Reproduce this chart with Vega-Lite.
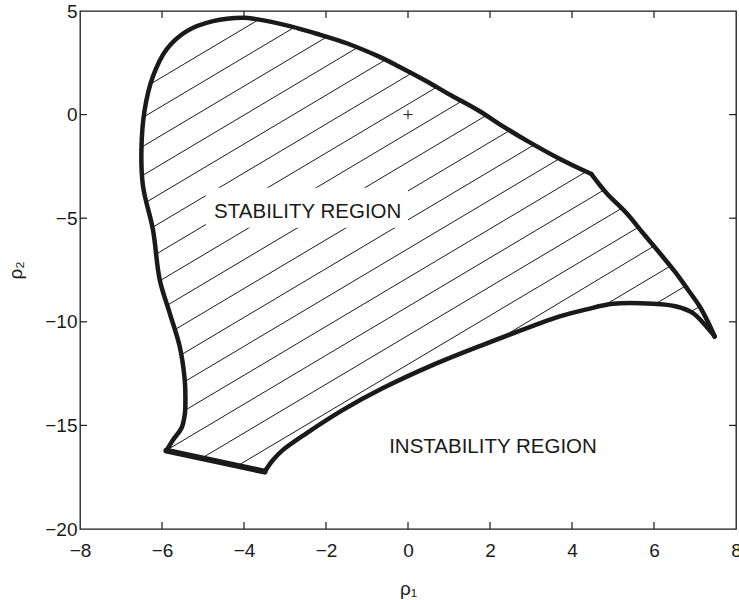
{
  "$schema": "https://vega.github.io/schema/vega-lite/v6.json",
  "width": 656,
  "height": 518,
  "autosize": {"type": "none"},
  "padding": {"left": 80, "top": 11, "right": 3, "bottom": 71},
  "background": "white",
  "datasets": {
    "boundary": [
      {"seg": "A", "i": 0, "x": -5.893, "y": -16.22},
      {"seg": "A", "i": 1, "x": -5.732, "y": -15.70},
      {"seg": "A", "i": 2, "x": -5.527, "y": -15.14},
      {"seg": "A", "i": 3, "x": -5.446, "y": -14.49},
      {"seg": "A", "i": 4, "x": -5.429, "y": -13.77},
      {"seg": "A", "i": 5, "x": -5.446, "y": -12.80},
      {"seg": "A", "i": 6, "x": -5.568, "y": -11.19},
      {"seg": "A", "i": 7, "x": -5.812, "y": -9.58},
      {"seg": "A", "i": 8, "x": -6.056, "y": -7.97},
      {"seg": "A", "i": 9, "x": -6.22, "y": -5.56},
      {"seg": "A", "i": 10, "x": -6.463, "y": -3.46},
      {"seg": "A", "i": 11, "x": -6.502, "y": -1.69},
      {"seg": "A", "i": 12, "x": -6.422, "y": 0.24},
      {"seg": "A", "i": 13, "x": -6.22, "y": 1.85},
      {"seg": "A", "i": 14, "x": -5.893, "y": 3.14},
      {"seg": "A", "i": 15, "x": -5.405, "y": 4.02},
      {"seg": "A", "i": 16, "x": -4.756, "y": 4.51},
      {"seg": "A", "i": 17, "x": -4.024, "y": 4.67},
      {"seg": "A", "i": 18, "x": -3.739, "y": 4.62},
      {"seg": "A", "i": 19, "x": -2.885, "y": 4.27},
      {"seg": "A", "i": 20, "x": -2.156, "y": 3.86},
      {"seg": "A", "i": 21, "x": -1.463, "y": 3.42},
      {"seg": "A", "i": 22, "x": -0.732, "y": 2.82},
      {"seg": "A", "i": 23, "x": -0.202, "y": 2.30},
      {"seg": "A", "i": 24, "x": 0.407, "y": 1.66},
      {"seg": "A", "i": 25, "x": 1.059, "y": 0.92},
      {"seg": "A", "i": 26, "x": 1.749, "y": 0.16},
      {"seg": "A", "i": 27, "x": 2.317, "y": -0.57},
      {"seg": "A", "i": 28, "x": 2.927, "y": -1.29},
      {"seg": "A", "i": 29, "x": 3.659, "y": -2.09},
      {"seg": "A", "i": 30, "x": 4.473, "y": -2.87},
      {"seg": "B", "i": 30, "x": 4.473, "y": -2.87},
      {"seg": "B", "i": 31, "x": 4.839, "y": -3.78},
      {"seg": "B", "i": 32, "x": 5.327, "y": -4.75},
      {"seg": "B", "i": 33, "x": 5.749, "y": -5.76},
      {"seg": "B", "i": 34, "x": 6.139, "y": -6.68},
      {"seg": "B", "i": 35, "x": 6.505, "y": -7.57},
      {"seg": "B", "i": 36, "x": 6.829, "y": -8.45},
      {"seg": "B", "i": 37, "x": 7.115, "y": -9.26},
      {"seg": "B", "i": 38, "x": 7.33, "y": -10.06},
      {"seg": "B", "i": 39, "x": 7.48, "y": -10.71},
      {"seg": "C", "i": 39, "x": 7.48, "y": -10.71},
      {"seg": "C", "i": 40, "x": 7.278, "y": -10.23},
      {"seg": "C", "i": 41, "x": 6.951, "y": -9.58},
      {"seg": "C", "i": 42, "x": 6.546, "y": -9.26},
      {"seg": "C", "i": 43, "x": 5.976, "y": -9.13},
      {"seg": "C", "i": 44, "x": 5.0, "y": -9.13},
      {"seg": "C", "i": 45, "x": 4.351, "y": -9.40},
      {"seg": "C", "i": 46, "x": 3.7, "y": -9.74},
      {"seg": "C", "i": 47, "x": 3.049, "y": -10.20},
      {"seg": "C", "i": 48, "x": 1.829, "y": -11.11},
      {"seg": "C", "i": 49, "x": 0.61, "y": -12.08},
      {"seg": "C", "i": 50, "x": -0.61, "y": -13.20},
      {"seg": "C", "i": 51, "x": -1.585, "y": -14.25},
      {"seg": "C", "i": 52, "x": -2.478, "y": -15.38},
      {"seg": "C", "i": 53, "x": -3.049, "y": -16.18},
      {"seg": "C", "i": 54, "x": -3.293, "y": -16.67},
      {"seg": "C", "i": 55, "x": -3.495, "y": -17.23}
    ],
    "bottomEdge": [
      {"i": 0, "x": -3.495, "y": -17.23},
      {"i": 1, "x": -5.893, "y": -16.22}
    ],
    "hatch": [
      {"k": 0, "x": -6.264, "y": 1.495, "x2": -3.644, "y2": 4.580},
      {"k": 1, "x": -6.436, "y": -0.103, "x2": -2.773, "y2": 4.210},
      {"k": 2, "x": -6.497, "y": -1.570, "x2": -1.980, "y2": 3.749},
      {"k": 3, "x": -6.475, "y": -2.939, "x2": -1.235, "y2": 3.231},
      {"k": 4, "x": -6.376, "y": -4.217, "x2": -0.551, "y2": 2.641},
      {"k": 5, "x": -6.234, "y": -5.445, "x2": 0.087, "y2": 1.997},
      {"k": 6, "x": -6.141, "y": -6.730, "x2": 0.700, "y2": 1.324},
      {"k": 7, "x": -6.049, "y": -8.017, "x2": 1.307, "y2": 0.644},
      {"k": 8, "x": -5.870, "y": -9.201, "x2": 1.907, "y2": -0.045},
      {"k": 9, "x": -5.690, "y": -10.384, "x2": 2.480, "y2": -0.765},
      {"k": 10, "x": -5.537, "y": -11.599, "x2": 3.077, "y2": -1.457},
      {"k": 11, "x": -5.445, "y": -12.886, "x2": 3.694, "y2": -2.126},
      {"k": 12, "x": -5.441, "y": -14.276, "x2": 4.347, "y2": -2.752},
      {"k": 13, "x": -5.886, "y": -16.195, "x2": 4.780, "y2": -3.637},
      {"k": 14, "x": -5.030, "y": -16.582, "x2": 5.213, "y2": -4.522},
      {"k": 15, "x": -4.155, "y": -16.947, "x2": 5.662, "y2": -5.389},
      {"k": 16, "x": 2.243, "y": -10.809, "x2": 6.000, "y2": -6.344},
      {"k": 17, "x": 4.763, "y": -9.237, "x2": 6.398, "y2": -7.312},
      {"k": 18, "x": 6.026, "y": -9.145, "x2": 6.765, "y2": -8.275},
      {"k": 19, "x": 6.887, "y": -9.526, "x2": 7.114, "y2": -9.259},
      {"k": 20, "x": 7.300, "y": -10.386, "x2": 7.400, "y2": -10.257}
    ],
    "ticks": [
      {"x": -6, "y": -20, "x2": -6, "y2": -19.66},
      {"x": -4, "y": -20, "x2": -4, "y2": -19.66},
      {"x": -2, "y": -20, "x2": -2, "y2": -19.66},
      {"x": 0, "y": -20, "x2": 0, "y2": -19.66},
      {"x": 2, "y": -20, "x2": 2, "y2": -19.66},
      {"x": 4, "y": -20, "x2": 4, "y2": -19.66},
      {"x": 6, "y": -20, "x2": 6, "y2": -19.66},
      {"x": -6, "y": 5, "x2": -6, "y2": 4.66},
      {"x": -4, "y": 5, "x2": -4, "y2": 4.66},
      {"x": -2, "y": 5, "x2": -2, "y2": 4.66},
      {"x": 0, "y": 5, "x2": 0, "y2": 4.66},
      {"x": 2, "y": 5, "x2": 2, "y2": 4.66},
      {"x": 4, "y": 5, "x2": 4, "y2": 4.66},
      {"x": 6, "y": 5, "x2": 6, "y2": 4.66},
      {"x": -8, "y": -15, "x2": -7.83, "y2": -15},
      {"x": -8, "y": -10, "x2": -7.83, "y2": -10},
      {"x": -8, "y": -5, "x2": -7.83, "y2": -5},
      {"x": -8, "y": 0, "x2": -7.83, "y2": 0},
      {"x": 8, "y": -15, "x2": 7.83, "y2": -15},
      {"x": 8, "y": -10, "x2": 7.83, "y2": -10},
      {"x": 8, "y": -5, "x2": 7.83, "y2": -5},
      {"x": 8, "y": 0, "x2": 7.83, "y2": 0}
    ],
    "labelBox": [
      {"x": -4.93, "x2": 0.0, "y": -3.53, "y2": -5.46}
    ],
    "labels": [
      {"x": -2.446, "y": -4.69, "text": "STABILITY REGION"},
      {"x": 2.073, "y": -16.02, "text": "INSTABILITY REGION"}
    ],
    "origin": [
      {"x": 0, "y": 0}
    ]
  },
  "layer": [
    {
      "data": {"name": "hatch"},
      "mark": {"type": "rule", "color": "#1a1a1a", "strokeWidth": 1},
      "encoding": {
        "x": {"field": "x", "type": "quantitative", "scale": {"domain": [-8, 8], "nice": false, "zero": false},
          "axis": {"orient": "bottom", "values": [-8, -6, -4, -2, 0, 2, 4, 6, 8], "title": "ρ₁", "labelFlush": false, "ticks": false, "labelPadding": 12, "titlePadding": 19}},
        "y": {"field": "y", "type": "quantitative", "scale": {"domain": [-20, 5], "nice": false, "zero": false},
          "axis": {"orient": "left", "values": [-20, -15, -10, -5, 0, 5], "title": "ρ₂", "labelFlush": false, "ticks": false, "labelPadding": 3, "titlePadding": 19}},
        "x2": {"field": "x2"},
        "y2": {"field": "y2"}
      }
    },
    {
      "data": {"name": "ticks"},
      "mark": {"type": "rule", "color": "#1a1a1a", "strokeWidth": 1.2},
      "encoding": {
        "x": {"field": "x", "type": "quantitative"},
        "y": {"field": "y", "type": "quantitative"},
        "x2": {"field": "x2"},
        "y2": {"field": "y2"}
      }
    },
    {
      "data": {"name": "labelBox"},
      "mark": {"type": "rect", "color": "white"},
      "encoding": {
        "x": {"field": "x", "type": "quantitative"},
        "x2": {"field": "x2"},
        "y": {"field": "y", "type": "quantitative"},
        "y2": {"field": "y2"}
      }
    },
    {
      "data": {"name": "boundary"},
      "mark": {"type": "line", "color": "#1a1a1a", "strokeWidth": 4.5, "strokeJoin": "round", "strokeCap": "round", "interpolate": "catmull-rom"},
      "encoding": {
        "x": {"field": "x", "type": "quantitative"},
        "y": {"field": "y", "type": "quantitative"},
        "detail": {"field": "seg", "type": "nominal"},
        "order": {"field": "i", "type": "quantitative"}
      }
    },
    {
      "data": {"name": "bottomEdge"},
      "mark": {"type": "line", "color": "#1a1a1a", "strokeWidth": 6, "strokeJoin": "round", "strokeCap": "round"},
      "encoding": {
        "x": {"field": "x", "type": "quantitative"},
        "y": {"field": "y", "type": "quantitative"},
        "order": {"field": "i", "type": "quantitative"}
      }
    },
    {
      "data": {"name": "origin"},
      "mark": {"type": "point", "shape": "M-1,0L1,0M0,-1L0,1", "size": 81, "stroke": "#1a1a1a", "strokeWidth": 1, "filled": false, "opacity": 1},
      "encoding": {
        "x": {"field": "x", "type": "quantitative"},
        "y": {"field": "y", "type": "quantitative"}
      }
    },
    {
      "data": {"name": "labels"},
      "mark": {"type": "text", "font": "Liberation Sans", "fontSize": 20.5, "color": "#1a1a1a", "align": "center", "baseline": "middle"},
      "encoding": {
        "x": {"field": "x", "type": "quantitative"},
        "y": {"field": "y", "type": "quantitative"},
        "text": {"field": "text", "type": "nominal"}
      }
    }
  ],
  "config": {
    "view": {"stroke": "#1a1a1a", "strokeWidth": 1.3},
    "axis": {
      "grid": false,
      "domain": false,
      "labelFont": "Liberation Sans",
      "labelFontSize": 19,
      "labelColor": "#1a1a1a",
      "titleFont": "Liberation Sans",
      "titleFontSize": 19,
      "titleFontWeight": "normal",
      "titleColor": "#1a1a1a"
    }
  }
}
